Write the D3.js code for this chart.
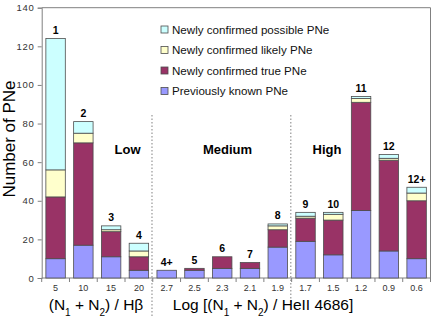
<!DOCTYPE html>
<html>
<head>
<meta charset="utf-8">
<script src="https://d3js.org/d3.v7.min.js"></script>
<style>
  body { margin: 0; background: #fff; }
  text { font-family: "Liberation Sans", Arial, sans-serif; }
</style>
</head>
<body>
<div id="chart"></div>
<script>
// categories (x tick labels) and bar number labels
const ticks = ["5", "10", "15", "20", "2.7", "2.5", "2.3", "2.1", "1.9", "1.7", "1.5", "1.2", "0.9", "0.6"];
const barLabels = ["1", "2", "3", "4", "4+", "5", "6", "7", "8", "9", "10", "11", "12", "12+"];

// stacked series, bottom to top
const known    = [10, 17, 11, 4, 4, 4, 5, 5, 16, 19, 12, 35, 14, 10];
const truePNe  = [32, 53, 13, 7, 0, 1, 6, 3, 9, 12, 18, 56, 47, 30];
const likely   = [14, 5, 1, 3, 0, 0, 0, 0, 2, 1, 3, 2, 1, 4];
const possible = [68, 6, 2, 4, 0, 0, 0, 0, 1, 2, 1, 1, 2, 3];

const seriesNames = ["Previously known PNe", "Newly confirmed true PNe", "Newly confirmed likely PNe", "Newly confirmed possible PNe"];
const colors = ["#9999ff", "#993366", "#ffffcc", "#ccffff"];
const yTicks = [0, 20, 40, 60, 80, 100, 120, 140];

const W = 439, H = 318;
const mLeft = 41.7, mRight = 430.5, mTop = 7.7, mBottom = 278;

const svg = d3.select("#chart").append("svg")
  .attr("width", W).attr("height", H);

const x = d3.scaleBand().domain(d3.range(ticks.length)).range([mLeft, mRight]).paddingInner(0.3).paddingOuter(0.15);
const y = d3.scaleLinear().domain([0, 140]).range([mBottom, mTop]);

// build stack table
const table = ticks.map((t, i) => ({ i: i, k0: known[i], k1: truePNe[i], k2: likely[i], k3: possible[i] }));
const stack = d3.stack().keys(["k0", "k1", "k2", "k3"])(table);

// frame lines
svg.append("line").attr("x1", mLeft).attr("x2", mRight).attr("y1", mTop).attr("y2", mTop).attr("stroke", "#808080");
svg.append("line").attr("x1", mRight).attr("x2", mRight).attr("y1", mTop).attr("y2", mBottom).attr("stroke", "#808080");

// y axis
const yAxis = svg.append("g")
  .attr("transform", `translate(${mLeft},0)`)
  .call(d3.axisLeft(y).tickValues(yTicks).tickSize(4).tickPadding(3));
yAxis.select(".domain").attr("stroke", "#808080");
yAxis.selectAll(".tick line").attr("stroke", "#808080");
yAxis.selectAll(".tick text").attr("fill", "#333").style("font-size", "9.5px").style("letter-spacing", "0.8px")
  .style("font-family", "Liberation Sans, Arial, sans-serif");

// x axis with ticks between categories
const xEdge = d3.scaleLinear().domain([0, ticks.length]).range([mLeft, mRight]);
svg.append("line").attr("x1", mLeft).attr("x2", mRight).attr("y1", mBottom).attr("y2", mBottom).attr("stroke", "#808080");
svg.selectAll("line.xt").data(d3.range(ticks.length + 1)).join("line")
  .attr("class", "xt")
  .attr("x1", d => xEdge(d)).attr("x2", d => xEdge(d))
  .attr("y1", mBottom).attr("y2", mBottom + 4).attr("stroke", "#808080");
svg.selectAll("text.xl").data(ticks).join("text")
  .attr("class", "xl")
  .attr("x", (d, i) => x(i) + x.bandwidth() / 2)
  .attr("y", 291)
  .attr("text-anchor", "middle")
  .attr("fill", "#333")
  .style("font-size", "9px")
  .text(d => d);

// bars
svg.selectAll("g.layer").data(stack).join("g")
  .attr("class", "layer")
  .attr("fill", (d, i) => colors[i])
  .selectAll("rect").data(d => d.filter(s => s[1] > s[0])).join("rect")
  .attr("x", d => x(d.data.i))
  .attr("width", x.bandwidth())
  .attr("y", d => y(d[1]))
  .attr("height", d => y(d[0]) - y(d[1]))
  .attr("stroke", "#4d4d4d")
  .attr("stroke-width", 0.8);

// bar number labels
const totals = ticks.map((t, i) => known[i] + truePNe[i] + likely[i] + possible[i]);
svg.selectAll("text.bl").data(barLabels).join("text")
  .attr("class", "bl")
  .attr("x", (d, i) => x(i) + x.bandwidth() / 2)
  .attr("y", (d, i) => y(totals[i]) - 4.5)
  .attr("text-anchor", "middle")
  .style("font-size", "10.5px")
  .style("font-weight", "bold")
  .text(d => d);

// dotted separators
[4, 9].forEach(k => {
  svg.append("line")
    .attr("x1", xEdge(k) - 0.8).attr("x2", xEdge(k) - 0.8)
    .attr("y1", 115).attr("y2", k === 4 ? 318 : 304)
    .attr("stroke", "#808080").attr("stroke-dasharray", "1.5,2");
});

// group labels
[["Low", 127.5], ["Medium", 227.5], ["High", 327]].forEach(g => {
  svg.append("text").attr("x", g[1]).attr("y", 154).attr("text-anchor", "middle")
    .style("font-size", "13px").style("font-weight", "bold").text(g[0]);
});

// legend
const legendOrder = [3, 2, 1, 0];
legendOrder.forEach((s, r) => {
  const ly = 29.5 + r * 20.5;
  svg.append("rect").attr("x", 161).attr("y", ly - 3.5).attr("width", 7).attr("height", 7)
    .attr("fill", colors[s]).attr("stroke", "#4d4d4d").attr("stroke-width", 0.8);
  svg.append("text").attr("x", 172).attr("y", ly + 4).attr("fill", "#111")
    .style("font-size", "11.6px").text(seriesNames[s]);
});

// y title
svg.append("text")
  .attr("transform", "translate(15,139) rotate(-90)")
  .attr("text-anchor", "middle")
  .style("font-size", "17px")
  .text("Number of PNe");

// x titles with subscripts
function subTitle(cx, parts) {
  const el = svg.append("text").attr("x", cx).attr("y", 310).attr("text-anchor", "middle")
    .style("font-size", "15.5px");
  parts.forEach(p => {
    const ts = el.append("tspan").text(p[0]);
    if (p[1]) ts.attr("baseline-shift", "sub").style("font-size", "10px");
  });
}
subTitle(96, [["(N"], ["1", true], [" + N"], ["2", true], [") / H\u03b2"]]);
subTitle(263, [["Log [(N"], ["1", true], [" + N"], ["2", true], [") / HeII 4686]"]]);
</script>
</body>
</html>
